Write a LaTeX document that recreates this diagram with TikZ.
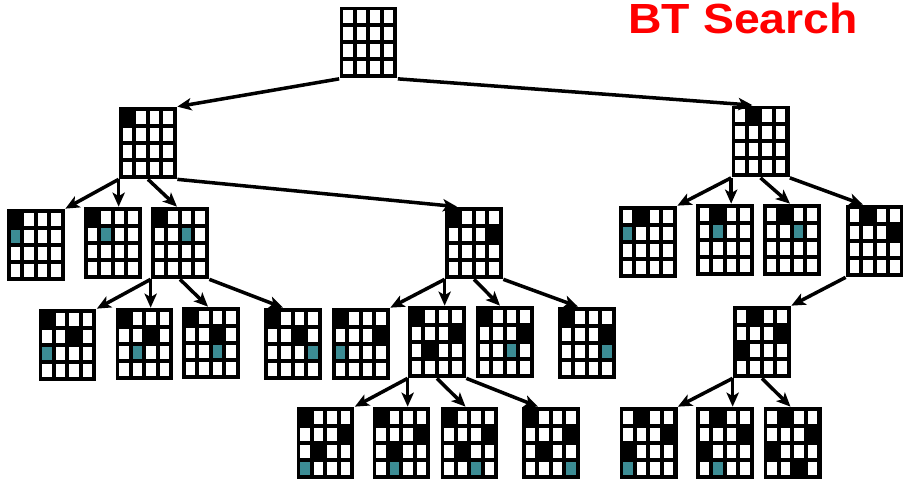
\documentclass[tikz,border=0pt]{standalone}
\usepackage{fontspec}
\newfontfamily\titlefont{Liberation Sans}
\usetikzlibrary{arrows.meta,positioning,calc}
\definecolor{tealcell}{RGB}{60,140,148}
\definecolor{penred}{RGB}{255,0,0}

% one 4x4 board: name, centre x, centre y, list of row/col/colour cells
\newcommand{\qboard}[4]{%
 \node[board] (#1) at (#2,#3) {};
 \foreach \qr in {0,...,3}
  \foreach \qc in {0,...,3}
   \fill[white] ($(#1.north west)+(4+13.5*\qc,4+17*\qr)$) rectangle ++(9.5,13);
 \foreach \qr/\qc/\qk in {#4}
  \fill[\qk] ($(#1.north west)+(4+13.5*\qc,4+17*\qr)$) rectangle ++(9.5,13);
}

\begin{document}
\begin{tikzpicture}[x=0.02cm,y=-0.02cm,
 board/.style={fill=black,inner sep=0pt,minimum width=1.16cm,minimum height=1.44cm},
 arr/.style={-{Stealth[length=8pt,width=7pt,inset=2pt]},line width=2pt},
 title/.style={text=penred,font=\titlefont\bfseries\fontsize{24}{28}\selectfont,inner sep=0pt,xscale=1.1}]
\useasboundingbox (0,0) rectangle (903,480);
\node[title,anchor=base west] (ttl) at (628,33) {BT Search};
% level 0 and 1
\qboard{root}{368.5}{42.5}{0/0/white}
\qboard{a}{148}{143}{0/0/black}
\qboard{b}{760.5}{141.5}{0/1/black}
% level 2
\qboard{a1}{36}{245}{0/0/black,1/0/tealcell}
\qboard{a2}{113}{243}{0/0/black,1/1/tealcell}
\qboard{a3}{180}{243}{0/0/black,1/2/tealcell}
\qboard{a4}{474}{243}{0/0/black,1/3/black}
\qboard{b1}{648}{242}{0/1/black,1/0/tealcell}
\qboard{b2}{725}{240}{0/1/black,1/1/tealcell}
\qboard{b3}{792}{240}{0/1/black,1/2/tealcell}
\qboard{b4}{875}{241}{0/1/black,1/3/black}
% level 3
\qboard{a31}{67.5}{345}{0/0/black,1/2/black,2/0/tealcell}
\qboard{a32}{144.5}{344}{0/0/black,1/2/black,2/1/tealcell}
\qboard{a33}{211}{343}{0/0/black,1/2/black,2/2/tealcell}
\qboard{a34}{293}{344}{0/0/black,1/2/black,2/3/tealcell}
\qboard{a41}{361}{344}{0/0/black,1/3/black,2/0/tealcell}
\qboard{a42}{437}{342}{0/0/black,1/3/black,2/1/black}
\qboard{a43}{505}{342}{0/0/black,1/3/black,2/2/tealcell}
\qboard{a44}{587}{343}{0/0/black,1/3/black,2/3/tealcell}
\qboard{b41}{762}{342}{0/1/black,1/3/black,2/0/black}
% level 4
\qboard{a421}{325.5}{443}{0/0/black,1/3/black,2/1/black,3/0/tealcell}
\qboard{a422}{401.5}{443}{0/0/black,1/3/black,2/1/black,3/1/tealcell}
\qboard{a423}{469.5}{443}{0/0/black,1/3/black,2/1/black,3/2/tealcell}
\qboard{a424}{551}{443}{0/0/black,1/3/black,2/1/black,3/3/tealcell}
\qboard{b411}{648.5}{443}{0/1/black,1/3/black,2/0/black,3/0/tealcell}
\qboard{b412}{725}{443}{0/1/black,1/3/black,2/0/black,3/1/tealcell}
\qboard{b413}{792.5}{443}{0/1/black,1/3/black,2/0/black,3/2/black}
% edges
\draw[arr] (root.south west)--(a.north east);
\draw[arr] (root.south east)--($(b.north)+(-8,0)$);
\draw[arr] (a.south west)--(a1.north east);
\draw[arr] (a.south west)--(a.south west |- a2.north);
\draw[arr] (a.south)--($(a3.north)+(-3,0)$);
\draw[arr] (a.south east)--($(a4.north)+(-17,0)$);
\draw[arr] (b.south west)--(b1.north east);
\draw[arr] (b.south west)--(b.south west |- b2.north);
\draw[arr] (b.south)--($(b3.north)+(-2,0)$);
\draw[arr] (b.south east)--($(b4.north)+(-12,0)$);
\draw[arr] (a3.south west)--(a31.north east);
\draw[arr] (a3.south west)--(a3.south west |- a32.north);
\draw[arr] (a3.south)--($(a33.north)+(-3,0)$);
\draw[arr] (a3.south east)--($(a34.north)+(-10,0)$);
\draw[arr] (a4.south west)--(a41.north east);
\draw[arr] (a4.south west)--(a4.south west |- a42.north);
\draw[arr] (a4.south)--($(a43.north)+(-5,0)$);
\draw[arr] (a4.south east)--($(a44.north)+(-9,0)$);
\draw[arr] (b4.south west)--(b41.north east);
\draw[arr] (a42.south west)--(a421.north east);
\draw[arr] (a42.south west)--(a42.south west |- a422.north);
\draw[arr] (a42.south)--($(a423.north)+(-4,0)$);
\draw[arr] (a42.south east)--($(a424.north)+(-13,0)$);
\draw[arr] (b41.south west)--(b411.north east);
\draw[arr] (b41.south west)--(b41.south west |- b412.north);
\draw[arr] (b41.south)--($(b413.north)+(-2,0)$);
\end{tikzpicture}
\end{document}
